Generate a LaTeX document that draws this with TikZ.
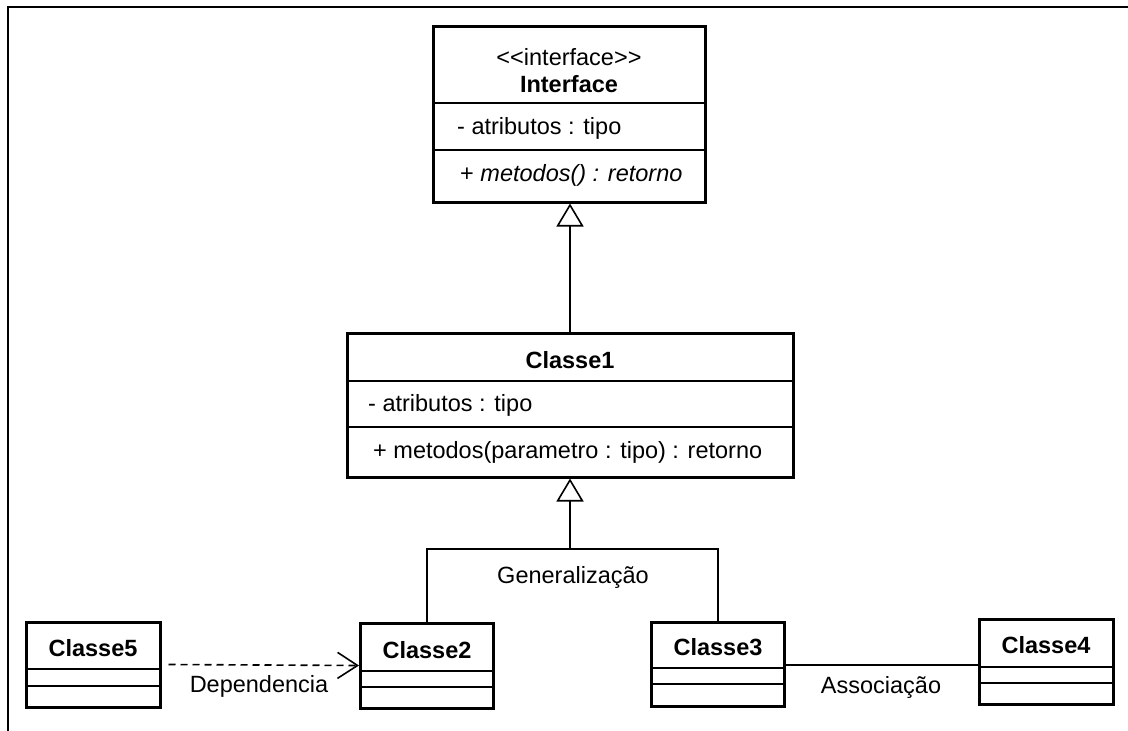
\documentclass[tikz,border=0pt]{standalone}
\usepackage{fontspec}
\setmainfont{Liberation Sans}
\usetikzlibrary{arrows.meta}
\begin{document}
\begin{tikzpicture}[x=1pt,y=-1pt,
  classbox/.style={draw=black,line width=3pt,rectangle,inner sep=0pt,fill=white},
  sepline/.style={line width=1.8pt},
  conn/.style={line width=1.6pt},
  txt/.style={inner sep=0pt,font=\fontsize{23.5}{28}\selectfont},
  ltxt/.style={txt,anchor=west},
  btxt/.style={txt,font=\fontsize{23.5}{28}\selectfont\bfseries},
  gen/.style={conn,-{Triangle[open,length=23pt,width=27pt,line width=1.6pt]}},
  dep/.style={conn,dash pattern=on 7pt off 5pt,-{Straight Barb[length=20pt,width=26pt,line width=1.6pt]}}
]
\useasboundingbox (0,0) rectangle (1128,731);
% frame edges
\draw[line width=2.2pt] (8,740) -- (8,7) -- (1140,7);

% Interface
\node[classbox,minimum width=272pt,minimum height=176pt] (iface) at (569,114) {};
\draw[sepline] (433,103) -- (705,103);
\draw[sepline] (433,150) -- (705,150);
\node[txt] (ifst) at (569,57) {<\kern0pt<interface>\kern0pt>};
\node[btxt] (ifnm) at (569,84) {Interface};
\node[ltxt] (ifat) at (457,128) {- atributos : tipo};
\node[ltxt] (ifop) at (460,175) {+ \textit{metodos() : retorno}};

% Classe1
\node[classbox,minimum width=446pt,minimum height=144pt] (c1) at (570,405) {};
\draw[sepline] (347,381) -- (793,381);
\draw[sepline] (347,427) -- (793,427);
\node[btxt] (c1nm) at (570,360) {Classe1};
\node[ltxt] (c1at) at (368,405) {- atributos : tipo};
\node[ltxt] (c1op) at (373,452) {+ metodos(parametro : tipo) : retorno};

% small classes
\node[classbox,minimum width=134pt,minimum height=85pt] (c5) at (93,664.5) {};
\draw[sepline] (26,669) -- (160,669);
\draw[sepline] (26,686) -- (160,686);
\node[btxt] (c5nm) at (93,648) {Classe5};

\node[classbox,minimum width=133pt,minimum height=85pt] (c2) at (427,665.5) {};
\draw[sepline] (360,671) -- (493,671);
\draw[sepline] (360,687) -- (493,687);
\node[btxt] (c2nm) at (427,650) {Classe2};

\node[classbox,minimum width=133pt,minimum height=84pt] (c3) at (718,664) {};
\draw[sepline] (651,668) -- (784,668);
\draw[sepline] (651,684) -- (784,684);
\node[btxt] (c3nm) at (718,647) {Classe3};

\node[classbox,minimum width=134pt,minimum height=85pt] (c4) at (1046,661.5) {};
\draw[sepline] (979,667) -- (1113,667);
\draw[sepline] (979,683) -- (1113,683);
\node[btxt] (c4nm) at (1046,645) {Classe4};

% realization of the interface
\draw[gen] (c1.north) -- (iface.south -| c1.north);

% generalization
\coordinate (gj) at (570,549);
\draw[conn] (c2.north) |- (gj) -| (c3.north);
\draw[gen] (gj) -- (c1.south -| gj);
\node[txt] (glbl) at (573,577) {Generalização};

% dependency
\draw[dep] ([xshift=7pt]c5.east) -- (c2.west);
\node[txt] (dlbl) at (259,686) {Dependencia};

% association
\draw[conn] (c3.east |- 0,665) -- (c4.west |- 0,665);
\node[txt] (albl) at (881,687) {Associação};
\end{tikzpicture}
\end{document}
